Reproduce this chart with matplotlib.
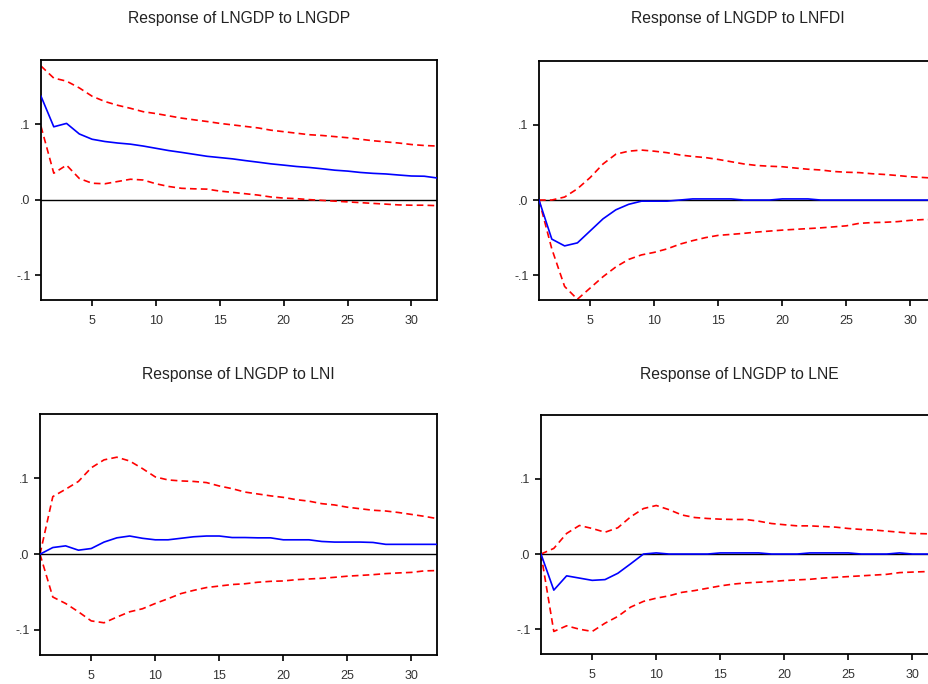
import numpy as np
import matplotlib
matplotlib.use('Agg')
import matplotlib.pyplot as plt

plt.rcParams['font.family'] = ['Liberation Sans', 'DejaVu Sans']

periods = np.arange(1, 33)

titles = ['Response of LNGDP to LNGDP', 'Response of LNGDP to LNFDI',
          'Response of LNGDP to LNI', 'Response of LNGDP to LNE']

# LNGDP -> LNGDP
gdp_resp = [0.137, 0.0965, 0.101, 0.087, 0.080, 0.077, 0.075, 0.0735, 0.071, 0.068,
            0.065, 0.0626, 0.060, 0.0574, 0.0557, 0.054, 0.0517, 0.0496, 0.0474, 0.0457,
            0.0439, 0.0426, 0.0409, 0.039, 0.0378, 0.036, 0.0348, 0.034, 0.0326, 0.0313,
            0.031, 0.0287]
gdp_up = [0.177, 0.161, 0.157, 0.148, 0.137, 0.130, 0.125, 0.121, 0.1165, 0.114,
          0.111, 0.108, 0.1057, 0.1035, 0.101, 0.099, 0.097, 0.095, 0.092, 0.090,
          0.088, 0.086, 0.085, 0.0835, 0.082, 0.080, 0.078, 0.0765, 0.075, 0.073,
          0.0717, 0.071]
gdp_lo = [0.097, 0.035, 0.0457, 0.028, 0.0217, 0.021, 0.024, 0.027, 0.026, 0.021,
          0.0174, 0.015, 0.0143, 0.0139, 0.0113, 0.0096, 0.0078, 0.006, 0.0035, 0.002,
          0.0013, 0.0, -0.001, -0.002, -0.003, -0.004, -0.005, -0.006, -0.007, -0.0074,
          -0.0074, -0.008]

# LNGDP -> LNFDI
fdi_resp = [0.0, -0.052, -0.061, -0.057, -0.041, -0.025, -0.013, -0.0057, -0.0015, -0.0015,
            -0.0015, 0.0, 0.0015, 0.0015, 0.0015, 0.0015, 0.0, 0.0, 0.0, 0.0015,
            0.0015, 0.0015, 0.0, 0.0, 0.0, 0.0, 0.0, 0.0, 0.0, 0.0,
            0.0, 0.0]
fdi_up = [0.0, 0.0, 0.004, 0.015, 0.030, 0.048, 0.061, 0.065, 0.0665, 0.065,
          0.063, 0.060, 0.058, 0.0565, 0.054, 0.051, 0.048, 0.046, 0.045, 0.0443,
          0.0426, 0.041, 0.040, 0.038, 0.037, 0.0365, 0.035, 0.034, 0.0326, 0.031,
          0.030, 0.029]
fdi_lo = [0.0, -0.065, -0.115, -0.132, -0.117, -0.102, -0.089, -0.079, -0.073, -0.0696,
          -0.065, -0.0587, -0.054, -0.050, -0.047, -0.0457, -0.0443, -0.0426, -0.0413, -0.040,
          -0.039, -0.038, -0.037, -0.0357, -0.0343, -0.031, -0.030, -0.0296, -0.0287, -0.027,
          -0.026, -0.026]

# LNGDP -> LNI
ni_resp = [0.0, 0.0088, 0.011, 0.0053, 0.0075, 0.016, 0.0216, 0.024, 0.021, 0.019,
           0.019, 0.021, 0.023, 0.024, 0.024, 0.022, 0.022, 0.0216, 0.0216, 0.019,
           0.019, 0.019, 0.0168, 0.016, 0.016, 0.016, 0.0155, 0.013, 0.013, 0.013,
           0.013, 0.013]
ni_up = [0.0, 0.076, 0.0857, 0.096, 0.114, 0.1245, 0.128, 0.123, 0.113, 0.102,
         0.098, 0.0967, 0.096, 0.0945, 0.090, 0.0865, 0.082, 0.0795, 0.077, 0.075,
         0.072, 0.070, 0.0667, 0.065, 0.062, 0.060, 0.058, 0.057, 0.055, 0.0525,
         0.050, 0.047]
ni_lo = [0.0, -0.0565, -0.065, -0.076, -0.088, -0.0905, -0.083, -0.076, -0.072, -0.065,
         -0.0587, -0.052, -0.0477, -0.044, -0.042, -0.040, -0.039, -0.037, -0.0358, -0.0353,
         -0.0336, -0.0327, -0.0318, -0.0305, -0.029, -0.028, -0.027, -0.0256, -0.0247, -0.024,
         -0.022, -0.0216]

# LNGDP -> LNE
ne_resp = [0.0, -0.048, -0.029, -0.032, -0.035, -0.034, -0.0256, -0.013, 0.0, 0.0015,
           0.0, 0.0, 0.0, 0.0, 0.0015, 0.0015, 0.0015, 0.0015, 0.0, 0.0,
           0.0, 0.0015, 0.0015, 0.0015, 0.0015, 0.0, 0.0, 0.0, 0.0015, 0.0,
           0.0, 0.0]
ne_up = [0.0, 0.0075, 0.0274, 0.038, 0.034, 0.029, 0.035, 0.0495, 0.0605, 0.0646,
         0.059, 0.052, 0.0486, 0.0473, 0.0464, 0.046, 0.046, 0.0437, 0.0406, 0.039,
         0.0375, 0.0375, 0.0366, 0.0358, 0.034, 0.0327, 0.032, 0.0305, 0.029, 0.0274,
         0.027, 0.0265]
ne_lo = [0.0, -0.103, -0.0955, -0.100, -0.103, -0.092, -0.083, -0.0706, -0.063, -0.0587,
         -0.0556, -0.051, -0.0486, -0.0455, -0.0424, -0.040, -0.0384, -0.0375, -0.0366, -0.0353,
         -0.0344, -0.0336, -0.032, -0.031, -0.030, -0.029, -0.028, -0.027, -0.0247, -0.024,
         -0.0234, -0.0234]

series = [(gdp_resp, gdp_up, gdp_lo), (fdi_resp, fdi_up, fdi_lo),
          (ni_resp, ni_up, ni_lo), (ne_resp, ne_up, ne_lo)]

W, H = 929, 684
fig = plt.figure(figsize=(W / 100, H / 100), dpi=100)

# axes boxes in pixels: left, top, right, bottom
boxes = [(41, 60, 437, 300), (539, 61, 936, 300),
         (40, 414, 437, 655), (541, 415, 938, 654)]
title_y = [18, 18, 375, 375]

for i, (box, title, (resp, up, lo)) in enumerate(zip(boxes, titles, series)):
    l, t, r, b = box
    ax = fig.add_axes([l / W, 1 - b / H, (r - l) / W, (b - t) / H])
    ax.axhline(0, color='black', lw=1.0, zorder=1)
    ax.plot(periods, resp, color='#0000ff', lw=1.2, zorder=3)
    ax.plot(periods, up, color='#ff0000', lw=1.2, ls=(0, (4, 2.5)), zorder=2)
    ax.plot(periods, lo, color='#ff0000', lw=1.2, ls=(0, (4, 2.5)), zorder=2)
    ax.set_xlim(1, 32)
    ax.set_ylim(-0.133, 0.185)
    ax.set_xticks([5, 10, 15, 20, 25, 30])
    ax.set_yticks([-0.1, 0.0, 0.1])
    ax.set_yticklabels(['-.1', '.0', '.1'])
    ax.tick_params(direction='out', length=4, width=1.2, labelsize=9,
                   colors='black', labelcolor='#333333')
    ax.tick_params(axis='x', pad=7)
    for s in ax.spines.values():
        s.set_linewidth(1.3)
    fig.text((l + r) / 2 / W, 1 - title_y[i] / H, title, ha='center', va='center',
             fontsize=11.3, color='#222222')

plt.savefig('out.png', dpi=100)
